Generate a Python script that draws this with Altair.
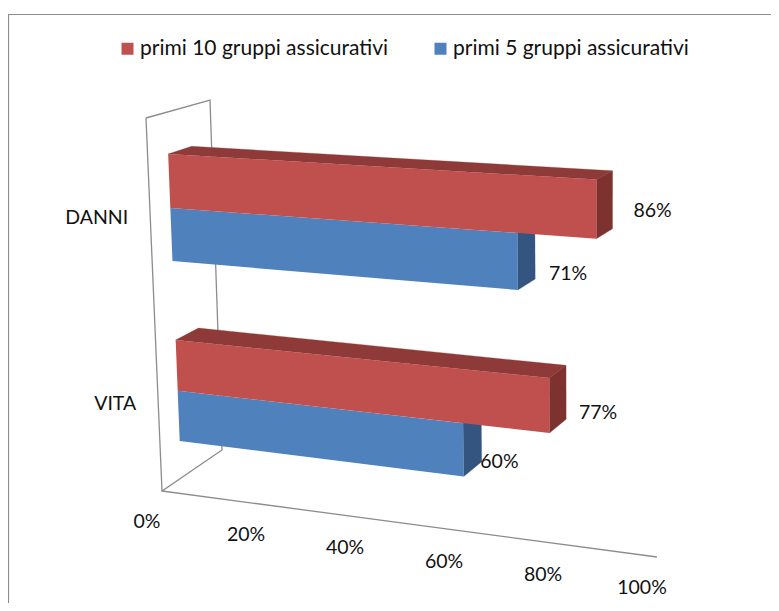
import altair as alt
import pandas as pd

# ---- chart values ----
CATEGORIES = ["DANNI", "VITA"]
SERIES_TOP = "primi 10 gruppi assicurativi"
SERIES_LOW = "primi 5 gruppi assicurativi"
TOP_VALUES = [0.86, 0.77]
LOW_VALUES = [0.71, 0.60]
TICKS = [0.0, 0.2, 0.4, 0.6, 0.8, 1.0]
TICK_LABELS = ["0%", "20%", "40%", "60%", "80%", "100%"]

# ---- 3D box seen by the camera (plane coordinates = page pixels) ----
A = (162, 491); B = (657, 557); C = (146, 118); D = (660, 145)     # front wall
E = (222, 450); G = (697, 514); F = (210, 100); H = (700, 123)     # back wall
DEPTH_FRONT, DEPTH_BACK = 0.32, 0.69
WARP = 0.09
# row edges: (bottom, boundary, top) of each category, as height fractions
ROWS = {"DANNI": (0.593, 0.738, 0.886), "VITA": (0.101, 0.238, 0.377)}
LABEL_OFFSET = {("DANNI", "top"): (40, 11), ("DANNI", "low"): (33, 23),
                ("VITA", "top"): (32, 21), ("VITA", "low"): (18, 26)}

COL_TOP, COL_TOP_LID, COL_TOP_SIDE = "#C0504D", "#8E3A38", "#7E3230"
COL_LOW, COL_LOW_SIDE = "#4F81BD", "#33557F"
GREY = "#8C8C8C"
FONT = "Lato"
FS = 19.5
RIGHT = 771
BOTTOM = 603


def lerp(p, q, t):
    return (p[0] + (q[0] - p[0]) * t, p[1] + (q[1] - p[1]) * t)


def project(v, r, d, warp=True):
    t = v / (1 + WARP * (1 - v)) if warp else v
    front = lerp(lerp(A, B, t), lerp(C, D, t), r)
    back = lerp(lerp(E, G, t), lerp(F, H, t), r)
    return lerp(front, back, d)


def box_faces(value, r0, r1):
    d0, d1 = DEPTH_FRONT, DEPTH_BACK
    return {
        "front": [project(0, r0, d0), project(value, r0, d0), project(value, r1, d0), project(0, r1, d0)],
        "lid": [project(0, r1, d0), project(value, r1, d0), project(value, r1, d1), project(0, r1, d1)],
        "side": [project(value, r0, d0), project(value, r0, d1), project(value, r1, d1), project(value, r1, d0)],
    }


def rows_for(points, **extra):
    return [dict(x=p[0], y=p[1], i=i, **extra) for i, p in enumerate(points)]


poly = {"top_front": [], "top_lid": [], "top_side": [], "low_front": [], "low_side": []}
labels = []
for k, cat in enumerate(CATEGORIES):
    r0, rm, r1 = ROWS[cat]
    low = box_faces(LOW_VALUES[k], r0, rm)
    top = box_faces(TOP_VALUES[k], rm, r1)
    for key, face in [("low_front", low["front"]), ("low_side", low["side"]),
                      ("top_front", top["front"]), ("top_lid", top["lid"]), ("top_side", top["side"])]:
        series = SERIES_TOP if key.startswith("top") else SERIES_LOW
        poly[key] += rows_for(face, poly=cat, series=series)
    for which, val, (a, b) in [("top", TOP_VALUES[k], (rm, r1)), ("low", LOW_VALUES[k], (r0, rm))]:
        p = project(val, (a + b) / 2, DEPTH_BACK)
        ox, oy = LABEL_OFFSET[(cat, which)]
        labels.append(dict(x=p[0] + ox, y=p[1] + oy, t=f"{round(val * 100)}%"))

xs = alt.X("x:Q", scale=alt.Scale(domain=[8, RIGHT], nice=False, zero=False), axis=None)
ys = alt.Y("y:Q", scale=alt.Scale(domain=[8, BOTTOM], nice=False, zero=False, reverse=True), axis=None)


def face_layer(rows, colour):
    return alt.Chart(pd.DataFrame(rows)).mark_line(
        interpolate="linear-closed", filled=True, fill=colour, stroke=colour, strokeWidth=0.3, clip=False
    ).encode(x=xs, y=ys, detail="poly:N", order="i:Q")


# wall + floor lines
wall_pts = [project(0, 1, 0, False), project(0, 1, 1, False), project(0, 0, 1, False),
            project(0, 0, 0, False), project(0, 1, 0, False)]
wall_rows = rows_for(wall_pts, path="wall") + rows_for(
    [project(0, 0, 0, False), project(1, 0, 0, False)], path="floor")
frame_rows = rows_for([(8.5, BOTTOM), (8.5, 14.5), (RIGHT, 14.5)], path="frame")

walls = alt.Chart(pd.DataFrame(wall_rows)).mark_line(color=GREY, strokeWidth=1.3, clip=False).encode(
    x=xs, y=ys, detail="path:N", order="i:Q")
frame = alt.Chart(pd.DataFrame(frame_rows)).mark_line(color=GREY, strokeWidth=1.2, clip=False).encode(
    x=xs, y=ys, detail="path:N", order="i:Q")

front_legend = alt.Fill(
    "series:N",
    scale=alt.Scale(domain=[SERIES_TOP, SERIES_LOW], range=[COL_TOP, COL_LOW]),
    legend=alt.Legend(
        title=None, orient="none", legendX=109, legendY=30, direction="horizontal", columns=2,
        symbolType="square", symbolSize=144, symbolStrokeWidth=0, labelFont=FONT, labelFontSize=21,
        labelColor="#111111", labelOffset=2, columnPadding=41, labelLimit=400,
    ),
)


def front_layer(rows):
    return alt.Chart(pd.DataFrame(rows)).mark_line(
        interpolate="linear-closed", filled=True, strokeWidth=0, clip=False
    ).encode(x=xs, y=ys, detail="poly:N", order="i:Q", fill=front_legend)


# text
tick_rows = []
for v, t in zip(TICKS, TICK_LABELS):
    p = project(v, 0, 0, False)
    tick_rows.append(dict(x=p[0] - 15, y=p[1] + 31, t=t))
cat_rows = []
for cat, (r0, rm, r1) in ROWS.items():
    p = project(0, rm, 0, False)
    cat_rows.append(dict(x=p[0] - 22, y=p[1] + 2, t=cat))


def text_layer(rows, align):
    return alt.Chart(pd.DataFrame(rows)).mark_text(
        font=FONT, fontSize=FS, color="#111111", align=align, baseline="middle", clip=False
    ).encode(x=xs, y=ys, text="t:N")


chart = alt.layer(
    frame, walls,
    face_layer(poly["low_side"], COL_LOW_SIDE),
    front_layer(poly["low_front"]),
    face_layer(poly["top_lid"], COL_TOP_LID),
    face_layer(poly["top_side"], COL_TOP_SIDE),
    front_layer(poly["top_front"]),
    text_layer(tick_rows, "center"),
    text_layer(labels, "center"),
    text_layer(cat_rows, "right"),
).properties(width=RIGHT - 8, height=BOTTOM - 8, padding=0, autosize=alt.AutoSizeParams(type="none"), background="white"
).configure_view(stroke=None)

chart.save("out.html", embed_options={"renderer": "svg", "actions": False})
